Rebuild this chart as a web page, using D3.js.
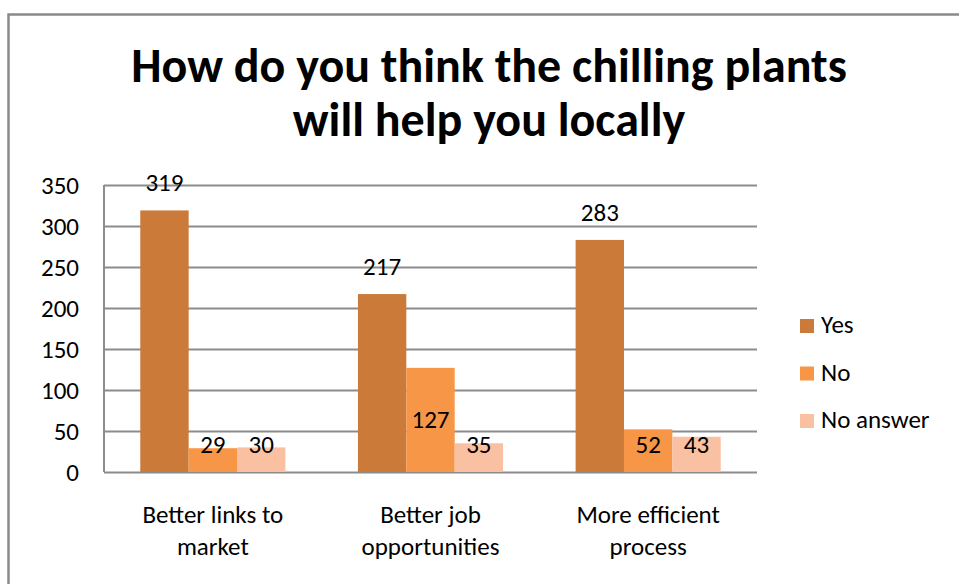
<!DOCTYPE html>
<html>
<head>
<meta charset="utf-8">
<script src="https://cdn.jsdelivr.net/npm/d3@7"></script>
<style>
  body { margin: 0; background: #fff; }
  text { font-family: Carlito, Calibri, Lato, "Open Sans", sans-serif; fill: #000; }
</style>
</head>
<body>
<div id="chart"></div>
<script>
var categories = ["Better links to market", "Better job opportunities", "More efficient process"];
var seriesNames = ["Yes", "No", "No answer"];
var yesValues = [319, 217, 283];
var noValues = [29, 127, 52];
var noAnswerValues = [30, 35, 43];
var yTicks = [0, 50, 100, 150, 200, 250, 300, 350];

var seriesValues = [yesValues, noValues, noAnswerValues];
var colors = ["#CB7A39", "#F69646", "#F9C0A2"];
// Yes labels sit above the bar, the others centred in it (kept off the axis)
var labelPlace = ["outside", "center", "center"];

var width = 959, height = 584;
var plotLeft = 104, plotRight = 757, plotTop = 185, plotBottom = 472;
var fontSize = 25;

var svg = d3.select("#chart")
    .append("svg")
    .attr("width", width)
    .attr("height", height);

svg.append("rect")
    .attr("x", 0).attr("y", 0)
    .attr("width", width).attr("height", height)
    .style("fill", "#fff");

// chart frame (runs off the right and bottom edges)
svg.append("rect")
    .attr("x", 8.5).attr("y", 14.5)
    .attr("width", 1000).attr("height", 700)
    .style("fill", "none")
    .style("stroke", "#8a8a8a")
    .style("stroke-width", 2.5);

// title
var title = svg.append("text")
    .attr("text-anchor", "middle")
    .style("font-weight", "bold")
    .style("font-size", "48px");
title.append("tspan").attr("x", 489).attr("y", 82).text("How do you think the chilling plants");
title.append("tspan").attr("x", 489).attr("y", 136).text("will help you locally");

var y = d3.scaleLinear().domain([0, 350]).range([plotBottom, plotTop]);

var x0 = d3.scaleBand()
    .domain(categories)
    .range([plotLeft, plotRight])
    .padding(0);

var x1 = d3.scaleBand()
    .domain(seriesNames)
    .range([0, x0.bandwidth()])
    .paddingInner(0)
    .paddingOuter(0.75);

// gridlines + y labels
var yAxis = svg.append("g")
    .attr("transform", "translate(" + plotLeft + ",0)")
    .call(d3.axisLeft(y).tickValues(yTicks).tickSize(-(plotRight - plotLeft)).tickPadding(25));

yAxis.select(".domain").remove();
yAxis.selectAll(".tick line")
    .style("stroke", "#8c8c8c")
    .style("stroke-width", 2);
yAxis.selectAll(".tick text")
    .style("font-size", fontSize + "px")
    .style("font-family", "Carlito, Calibri, Lato, sans-serif")
    .style("fill", "#000")
    .attr("dy", "0.34em");

svg.append("line")
    .attr("x1", plotLeft).attr("x2", plotLeft)
    .attr("y1", plotTop).attr("y2", plotBottom)
    .style("stroke", "#8c8c8c")
    .style("stroke-width", 2);

// bars
var groups = svg.selectAll(".cat")
    .data(categories)
  .enter()
    .append("g")
    .attr("class", "cat")
    .attr("transform", function(d) { return "translate(" + x0(d) + ",0)"; });

groups.selectAll("rect")
    .data(function(d, i) {
        return seriesNames.map(function(s, j) { return {s: s, j: j, v: seriesValues[j][i]}; });
    })
  .enter()
    .append("rect")
    .attr("x", function(d) { return x1(d.s); })
    .attr("y", function(d) { return y(d.v); })
    .attr("width", x1.bandwidth())
    .attr("height", function(d) { return y(0) - y(d.v); })
    .style("fill", function(d) { return colors[d.j]; });

groups.selectAll(".lbl")
    .data(function(d, i) {
        return seriesNames.map(function(s, j) { return {s: s, j: j, v: seriesValues[j][i]}; });
    })
  .enter()
    .append("text")
    .attr("class", "lbl")
    .attr("text-anchor", "middle")
    .style("font-size", fontSize + "px")
    .attr("x", function(d) { return x1(d.s) + x1.bandwidth() / 2; })
    .attr("y", function(d) {
        if (labelPlace[d.j] == "outside") return y(d.v) - 19;
        var mid = Math.min((y(d.v) + y(0)) / 2, y(0) - 27);
        return mid + 8;
    })
    .text(function(d) { return d.v; });

// category labels, wrapped
function wrap(txt, maxW, size) {
    var words = txt.split(" "), lines = [], cur = "";
    var probe = svg.append("text").style("font-size", size + "px");
    words.forEach(function(w) {
        var test = cur ? cur + " " + w : w;
        probe.text(test);
        if (probe.node().getComputedTextLength() > maxW && cur) {
            lines.push(cur);
            cur = w;
        } else {
            cur = test;
        }
    });
    lines.push(cur);
    probe.remove();
    return lines;
}

categories.forEach(function(c) {
    var t = svg.append("text")
        .attr("text-anchor", "middle")
        .style("font-size", fontSize + "px");
    wrap(c, 185, fontSize).forEach(function(line, k) {
        t.append("tspan")
            .attr("x", x0(c) + x0.bandwidth() / 2)
            .attr("y", 523 + k * 32)
            .text(line);
    });
});

// legend
var legend = svg.selectAll(".leg")
    .data(seriesNames)
  .enter()
    .append("g")
    .attr("class", "leg")
    .attr("transform", function(d, i) { return "translate(800," + (319 + i * 47.5) + ")"; });

legend.append("rect")
    .attr("width", 14).attr("height", 14)
    .style("fill", function(d, i) { return colors[i]; });

legend.append("text")
    .attr("x", 21)
    .attr("y", 14)
    .style("font-size", fontSize + "px")
    .text(function(d) { return d; });
</script>
</body>
</html>
